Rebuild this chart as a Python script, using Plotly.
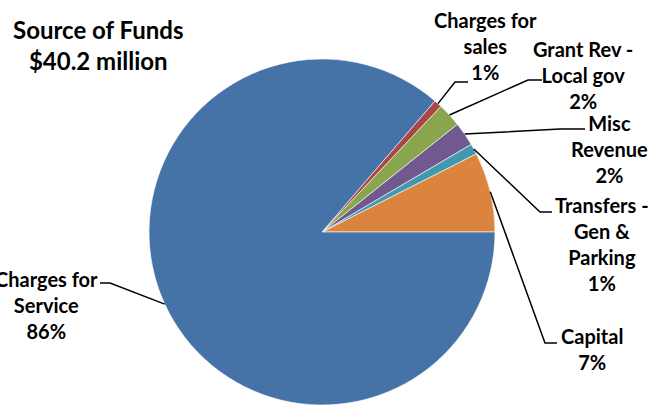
import math
import plotly.graph_objects as go

# Source of funds, $ millions (slices run counter-clockwise from 3 o'clock)
categories = ["Capital", "Transfers -<br>Gen &<br>Parking", "Misc<br>Revenue",
              "Grant Rev -<br>Local gov", "Charges for<br>sales", "Charges for<br>Service"]
amounts = [3.0, 0.4, 0.9, 0.9, 0.3, 34.7]
colors = ["#DB843D", "#4198AF", "#71588F", "#89A54E", "#AA4643", "#4572A7"]

W, H = 654, 412
CX, CY, R = 322, 232, 173          # pie centre and radius in pixels

# Label placement (label centre, elbow, end of leader) in pixels
label_layout = [
    dict(pos=(592, 349), elbow=(545, 343), end=(557, 343)),
    dict(pos=(602, 244), elbow=(540, 212), end=(552, 212)),
    dict(pos=(609, 149), elbow=(560, 129), end=(585, 129)),
    dict(pos=(583, 75), elbow=(528, 80), end=(542, 80)),
    dict(pos=(485, 46), elbow=(455, 82), end=(468, 82)),
    dict(pos=(46, 305), elbow=(110, 283), end=(100, 283)),
]


def px(x):
    return x / W


def py(y):
    return 1 - y / H


total = sum(amounts)
# counter-clockwise pies end their first slice at the rotation angle,
# so shift it to make the first slice begin at 3 o'clock
rotation = 90 - 360 * amounts[0] / total

fig = go.Figure(go.Pie(
    labels=categories,
    values=amounts,
    sort=False,
    direction="counterclockwise",
    rotation=rotation,
    marker=dict(colors=colors, line=dict(color="white", width=0.6)),
    textinfo="none",
    hoverinfo="label+percent",
    domain=dict(x=[px(CX - R), px(CX + R)], y=[py(CY + R), py(CY - R)]),
    showlegend=False,
))

shapes, annotations = [], []
cum = 0.0
lab_font = dict(family="Lato, Open Sans, sans-serif", size=20, color="black", weight="bold")
for name, val, lay in zip(categories, amounts, label_layout):
    mid = 2 * math.pi * (cum + val / 2) / total
    cum += val
    sx, sy = CX + R * math.cos(mid), CY - R * math.sin(mid)
    (ex, ey), (tx, ty) = lay["elbow"], lay["end"]
    path = f"M {px(sx)},{py(sy)} L {px(ex)},{py(ey)} L {px(tx)},{py(ty)}"
    shapes.append(dict(type="path", path=path, xref="paper", yref="paper",
                       line=dict(color="black", width=1.5)))
    pct = round(100 * val / total)
    lx, ly = lay["pos"]
    annotations.append(dict(text=f"{name}<br>{pct}%", x=px(lx), y=py(ly),
                            xref="paper", yref="paper", showarrow=False,
                            xanchor="center", yanchor="middle", align="center",
                            font=lab_font))

annotations.append(dict(text="Source of Funds<br>$40.2 million", x=px(98), y=py(45),
                        xref="paper", yref="paper", showarrow=False,
                        xanchor="center", yanchor="middle", align="center",
                        font=dict(family="Lato, Open Sans, sans-serif", size=24,
                                  color="black", weight="bold")))

fig.update_layout(
    width=W, height=H,
    margin=dict(l=0, r=0, t=0, b=0),
    paper_bgcolor="white",
    plot_bgcolor="white",
    shapes=shapes,
    annotations=annotations,
)

fig.write_html("out.html")
